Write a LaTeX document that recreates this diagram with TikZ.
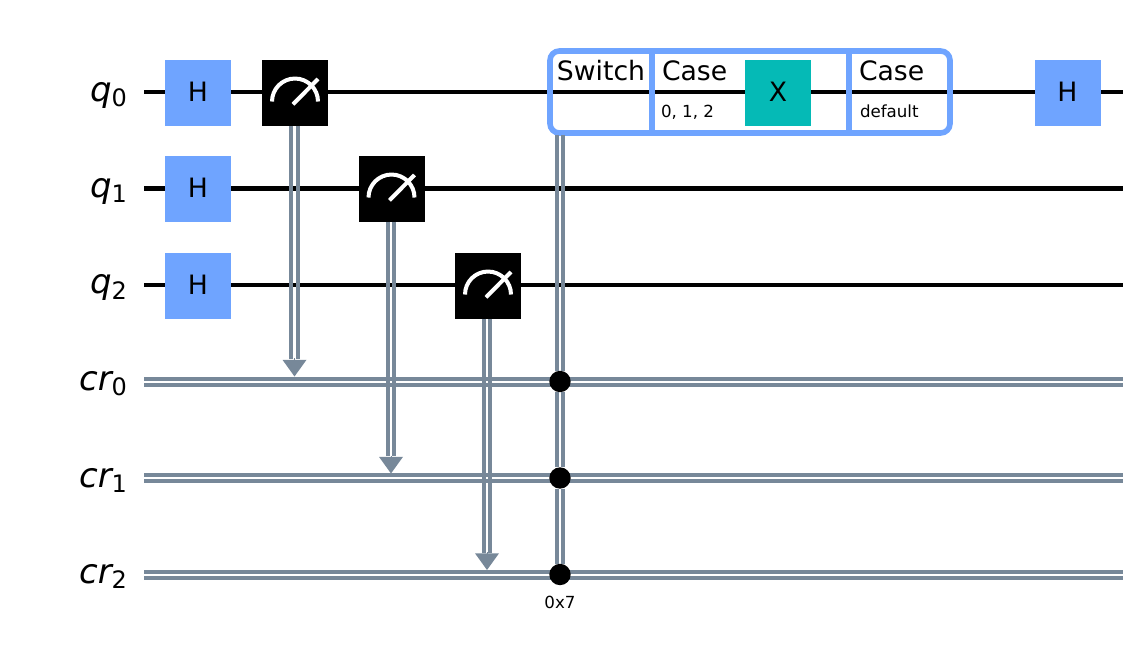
\documentclass[tikz,border=0pt]{standalone}
\usepackage{fontspec}
\setmainfont{DejaVu Sans}
\usetikzlibrary{arrows.meta}
\definecolor{gateblue}{HTML}{6FA4FF}
\definecolor{gateteal}{HTML}{05BAB6}
\definecolor{wiregray}{HTML}{778899}
\newcommand{\reglabel}[2]{\fontsize{25.5}{30}\selectfont\itshape #1\raisebox{-4pt}{\fontsize{18}{20}\selectfont\upshape #2}}
\newcommand{\clwirev}[2]{%
  \draw [clwire, transform canvas={xshift=-2.5pt}] (#1) -- (#2);
  \draw [clwire, transform canvas={xshift=2.5pt}] (#1) -- (#2);}
\newcommand{\clwireh}[2]{%
  \draw [clwire, transform canvas={yshift=-2.2pt}] (#1) -- (#2);
  \draw [clwire, transform canvas={yshift=2.2pt}] (#1) -- (#2);}
\newcommand{\meterglyph}[1]{%
  \draw [meterline] ([xshift=-17.25pt, yshift=-6.4pt]#1.center) arc[start angle=180, end angle=0, radius=17.25pt];
  \draw [meterline] ([xshift=-1.5pt, yshift=-8.5pt]#1.center) -- ([xshift=17.25pt, yshift=10.5pt]#1.center);}
\begin{document}
\begin{tikzpicture}[%
        x=0.75pt, y=-0.75pt,
        every node/.style={inner sep=0pt, outer sep=0pt},
        qwire/.style={black, line width=3.2pt},
        clwire/.style={wiregray, line width=3pt},
        gate/.style={minimum size=49.5pt, fill=gateblue, text depth=2pt, font=\fontsize{20}{24}\selectfont},
        xgate/.style={gate, fill=gateteal},
        measure/.style={minimum size=49.5pt, fill=black},
        meterline/.style={white, line width=3pt},
        ctrl/.style={circle, fill=black, minimum size=16pt},
        casebox/.style={draw=gateblue, line width=4.2pt, rounded corners=7pt, minimum width=300pt, minimum height=61.5pt},
        divider/.style={gateblue, line width=4.2pt},
        bigtext/.style={font=\fontsize{20}{24}\selectfont},
        smalltext/.style={font=\fontsize{12.5}{14}\selectfont},
        reglab/.style={anchor=base east},
        tipline/.style={wiregray, line width=0pt, -{Triangle[length=12.5pt, width=18pt]}}
      ]
      \useasboundingbox (0,0) rectangle (1145,648);
      % wire ends
      \coordinate (q0l) at (144,92);
      \coordinate (q0r) at (1123,92);
      \coordinate (q1l) at (144,188.5);
      \coordinate (q1r) at (1123,188.5);
      \coordinate (q2l) at (144,285);
      \coordinate (q2r) at (1123,285);
      \coordinate (c0l) at (144,381.7);
      \coordinate (c0r) at (1123,381.7);
      \coordinate (c1l) at (144,478.2);
      \coordinate (c1r) at (1123,478.2);
      \coordinate (c2l) at (144,574.7);
      \coordinate (c2r) at (1123,574.7);
      \draw [qwire] (q0l) -- (q0r);
      \draw [qwire] (q1l) -- (q1r);
      \draw [qwire] (q2l) -- (q2r);
      \clwireh{c0l}{c0r}
      \clwireh{c1l}{c1r}
      \clwireh{c2l}{c2r}
      % register labels
      \node [reglab] (lq0) at (127,101.5) {\reglabel{q}{0}};
      \node [reglab] (lq1) at (127,197.5) {\reglabel{q}{1}};
      \node [reglab] (lq2) at (127,294) {\reglabel{q}{2}};
      \node [reglab] (lc0) at (127,390) {\reglabel{cr}{0}};
      \node [reglab] (lc1) at (127,487) {\reglabel{cr}{1}};
      \node [reglab] (lc2) at (127,583.5) {\reglabel{cr}{2}};
      % gates
      \node [gate] (h0) at (198,93) {H};
      \node [gate] (h1) at (198,189) {H};
      \node [gate] (h2) at (198,286) {H};
      \node [gate] (h3) at (1067.5,93) {H};
      % measurements
      \node [measure] (m0) at (295,93) {};
      \node [measure] (m1) at (391.5,189) {};
      \node [measure] (m2) at (488,286) {};
      \meterglyph{m0}
      \meterglyph{m1}
      \meterglyph{m2}
      \coordinate (s0) at (294.5,126);
      \coordinate (s1) at (391,222);
      \coordinate (s2) at (487,319);
      \coordinate (a0) at (294.5,359);
      \coordinate (a1) at (391,456);
      \coordinate (a2) at (487,552.5);
      \coordinate (t0) at (294.5,376.5);
      \coordinate (t1) at (391,473.5);
      \coordinate (t2) at (487,570);
      \clwirev{s0}{a0}
      \clwirev{s1}{a1}
      \clwirev{s2}{a2}
      \draw [tipline] (a0) -- (t0);
      \draw [tipline] (a1) -- (t1);
      \draw [tipline] (a2) -- (t2);
      % switch block
      \node [xgate] (x0) at (778,93) {X};
      \node [casebox] (sw) at (750,92) {};
      \coordinate (d0t) at (652,51);
      \coordinate (d0b) at (652,133);
      \coordinate (d1t) at (849,51);
      \coordinate (d1b) at (849,133);
      \draw [divider] (d0t) -- (d0b);
      \draw [divider] (d1t) -- (d1b);
      \node [bigtext] (tsw) at (601,71) {Switch};
      \node [bigtext, anchor=base west] (tc0) at (662,81) {Case};
      \node [bigtext, anchor=base west] (tc1) at (859,81) {Case};
      \node [smalltext, anchor=base west] (tv0) at (661,118) {0, 1, 2};
      \node [smalltext, anchor=base west] (tv1) at (860,118) {default};
      % controls
      \coordinate (swb) at (560,135);
      \node [ctrl] (c0) at (560,381.5) {};
      \node [ctrl] (c1) at (560,478) {};
      \node [ctrl] (c2) at (560,574.5) {};
      \clwirev{swb}{c0.north}
      \clwirev{c0.south}{c1.north}
      \clwirev{c1.south}{c2.north}
      \node [smalltext] (t7) at (560,602.5) {0x7};
    \end{tikzpicture}
\end{document}
